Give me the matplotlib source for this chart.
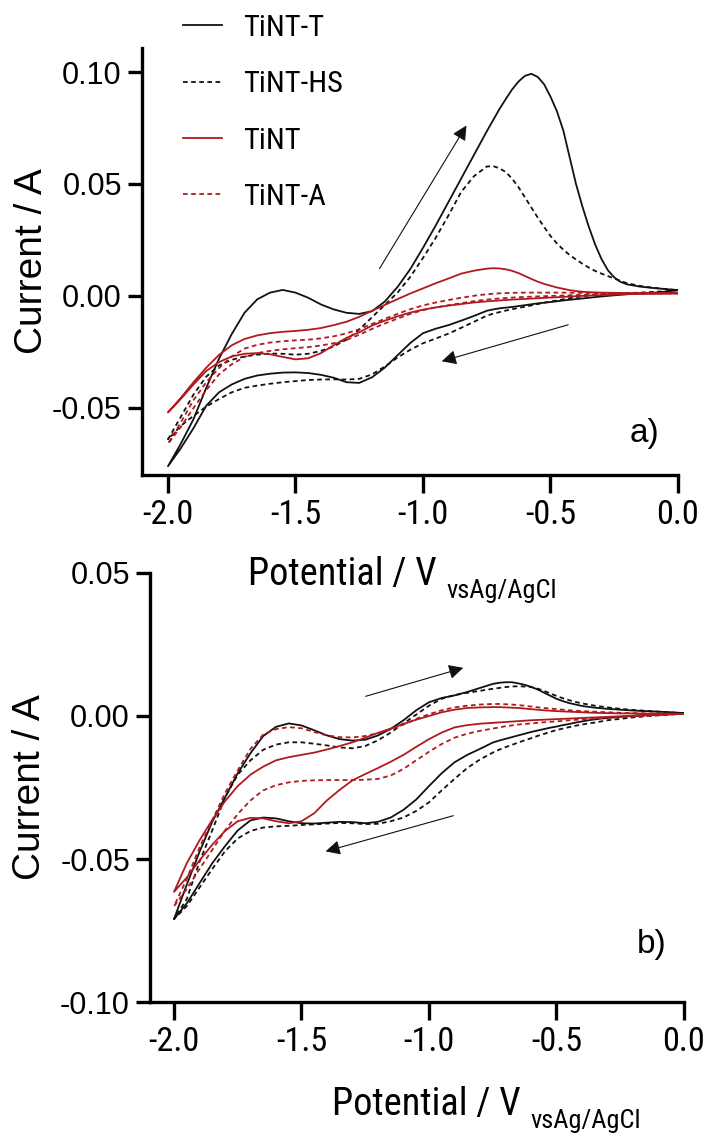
import matplotlib
matplotlib.use("Agg")
import matplotlib.pyplot as plt
from matplotlib import font_manager
import numpy as np

plt.rcParams["font.family"] = ["Liberation Sans", "DejaVu Sans"]
plt.rcParams["axes.unicode_minus"] = False

# the figure mixes a regular and a condensed Arial-like face; use a condensed
# family when one is installed, otherwise the regular one slightly smaller
_names = {f.name for f in font_manager.fontManager.ttflist}
NARROW, NK = "Liberation Sans", 0.88
for fam, k in [("Liberation Sans Narrow", 1.0), ("Arial Narrow", 1.0),
               ("Roboto Condensed", 0.95), ("Noto Sans Condensed", 0.9),
               ("Open Sans Condensed", 0.9)]:
    if fam in _names:
        NARROW, NK = fam, k
        break

BLACK, RED = "#111111", "#B01A1F"
DASH = (0, (2.6, 1.9))
W, H = 705, 1133

# potential grid, V vs Ag/AgCl (shared by every sweep)
E = [-2.00, -1.95, -1.90, -1.85, -1.80, -1.75, -1.70, -1.65, -1.60, -1.55,
     -1.50, -1.45, -1.40, -1.35, -1.30, -1.25, -1.20, -1.15, -1.10, -1.05,
     -1.00, -0.95, -0.90, -0.85, -0.80,
     -0.75, -0.725, -0.70, -0.675, -0.65, -0.625, -0.60, -0.575, -0.55, -0.525,
     -0.50, -0.475, -0.45, -0.425, -0.40, -0.375, -0.35, -0.325, -0.30, -0.275,
     -0.25, -0.225, -0.20, -0.15, -0.10, -0.05, 0.00]

# currents in mA
# *_fwd = anodic sweep (-2 -> 0 V), *_rev = cathodic sweep (0 -> -2 V)
# ---- panel a)
a_T_fwd = [-76, -66, -55, -41, -28, -17, -7.5, -1.5, 1.5, 2.7,
           1.5, -0.8, -3.8, -6.0, -7.5, -8.0, -6.8, -2.5, 4.0, 12,
           21.5, 31.5, 42, 52.5, 63,
           73.5, 78.5, 83.5, 88, 92.3, 95.8, 98.3, 99.2, 97.8, 94.5,
           89, 82.5, 74, 62, 50, 40, 31, 23, 16.5, 11.5,
           8.3, 6.3, 5.2, 4.2, 3.6, 3.1, 2.6]
a_T_rev = [-76, -68, -59, -49, -43, -39.5, -37, -35.5, -34.7, -34.2,
           -34.1, -34.4, -35.2, -36.5, -38.5, -38.8, -36.3, -32, -26.5, -21,
           -16.6, -14.6, -13.0, -11.0, -8.9,
           -6.6, -6.0, -5.5, -5.2, -4.9, -4.5, -4.1, -3.7, -3.3, -3.0,
           -2.7, -2.35, -2.0, -1.7, -1.4, -1.1, -0.8, -0.5, -0.2, 0.05,
           0.3, 0.55, 0.8, 1.1, 1.4, 1.9, 2.6]
a_HS_fwd = [-64, -54, -44, -36, -31, -28.5, -27, -26.2, -25.7, -25.8,
            -26.2, -25.8, -24.5, -22.5, -19.5, -15, -9.5, -4, 1.5, 8.5,
            17, 26, 36, 46.5, 53.5,
            57.8, 58.0, 57.0, 55.3, 52.3, 48.5, 44, 39.5, 35, 30.8,
            26.8, 23.5, 20.7, 18.3, 16.3, 14.4, 12.7, 11.2, 10, 8.9,
            7.8, 6.7, 5.7, 4.5, 3.7, 3.1, 2.6]
a_HS_rev = [-64, -58, -53.5, -49.4, -46, -43, -41, -40, -39.2, -38.5,
            -38, -37.5, -37.3, -37.2, -37.3, -37, -35, -31.5, -27.5, -24,
            -21.1, -19, -16.8, -14.2, -11.5,
            -8.8, -7.9, -7.2, -6.5, -5.9, -5.3, -4.8, -4.2, -3.6, -3.0,
            -2.5, -2.0, -1.5, -1.0, -0.5, -0.15, 0.2, 0.45, 0.7, 0.85,
            1.0, 1.15, 1.3, 1.5, 1.8, 2.1, 2.6]
a_N_fwd = [-52, -45.5, -38.5, -32, -26.3, -22, -19.2, -17.6, -16.6, -16,
           -15.6, -15.1, -14.3, -13, -11.5, -9.3, -6.6, -4, -1.4, 1.1,
           3.4, 5.7, 7.8, 10, 11.3,
           12.2, 12.4, 12.3, 11.9, 11.2, 10.2, 8.9, 7.6, 6.4, 5.4,
           4.6, 3.8, 3.2, 2.6, 2.2, 1.9, 1.7, 1.6, 1.5, 1.45,
           1.4, 1.35, 1.3, 1.3, 1.25, 1.2, 1.2]
a_N_rev = [-52, -46, -39.5, -33.5, -29.5, -27, -25.8, -25.5, -26, -27.2,
           -28.3, -27.8, -25.5, -22, -18.7, -16.2, -13.2, -11, -9.1, -7.4,
           -6.1, -5.1, -4.3, -3.6, -2.9,
           -2.4, -2.2, -2.0, -1.8, -1.6, -1.45, -1.3, -1.15, -1.0, -0.85,
           -0.7, -0.55, -0.4, -0.25, -0.1, 0.05, 0.2, 0.3, 0.4, 0.5,
           0.6, 0.7, 0.8, 0.9, 1.0, 1.1, 1.2]
a_A_fwd = [-66, -56.5, -46.5, -38.5, -32.2, -27, -23.5, -21.8, -20.8, -20.2,
           -19.8, -19.5, -18.9, -18, -16.7, -14.8, -12.5, -10.2, -8, -5.9,
           -4.2, -2.9, -1.8, -0.8, 0.1,
           0.8, 1.0, 1.2, 1.3, 1.4, 1.45, 1.5, 1.5, 1.5, 1.5,
           1.5, 1.5, 1.5, 1.45, 1.4, 1.4, 1.4, 1.35, 1.3, 1.3,
           1.3, 1.25, 1.2, 1.2, 1.2, 1.2, 1.2]
a_A_rev = [-66, -58.5, -50, -42, -35, -30.5, -27.2, -25.5, -24.5, -23.8,
           -23.3, -22.8, -22.1, -21.1, -19.6, -17.3, -14.7, -12.3, -10.1, -8,
           -6.3, -5.1, -4.1, -3.2, -2.3,
           -1.6, -1.35, -1.1, -0.9, -0.7, -0.55, -0.4, -0.3, -0.2, -0.1,
           0.0, 0.1, 0.2, 0.3, 0.4, 0.5, 0.6, 0.65, 0.7, 0.75,
           0.8, 0.85, 0.9, 1.0, 1.1, 1.2, 1.2]

# ---- panel b)
b_T_fwd = [-71, -59, -47.5, -37, -28.5, -20, -13, -7, -3.8, -2.6,
           -3.3, -5.0, -6.8, -8.1, -8.6, -8.3, -6.8, -4.5, -1.5, 2.0,
           4.8, 6.3, 7.2, 8.4, 9.8,
           11.2, 11.6, 11.8, 11.8, 11.4, 10.9, 10.2, 9.3, 8.2, 7.1,
           6.0, 5.2, 4.5, 4.0, 3.5, 3.2, 2.9, 2.7, 2.5, 2.35,
           2.2, 2.05, 1.9, 1.7, 1.5, 1.3, 1.0]
b_T_rev = [-71, -65.5, -58.5, -51.5, -45.5, -40, -36.5, -35.5, -35.8, -36.8,
           -37.5, -37.6, -37.3, -37, -37.1, -37.5, -37, -35.5, -32.8, -29.2,
           -24.5, -20, -16.2, -13.6, -11.5,
           -9.3, -8.6, -8.0, -7.4, -6.8, -6.2, -5.6, -5.1, -4.6, -4.1,
           -3.7, -3.2, -2.8, -2.3, -1.9, -1.5, -1.2, -0.9, -0.7, -0.5,
           -0.3, -0.15, 0.0, 0.2, 0.4, 0.6, 1.0]
b_HS_fwd = [-71, -64, -51, -40, -28.5, -20.5, -15.5, -11.8, -10, -9.2,
            -9.2, -9.7, -10.3, -11, -11.3, -10.5, -8.5, -5.8, -2.6, 0.5,
            3.6, 6.0, 7.3, 8.1, 8.8,
            9.5, 9.8, 10.1, 10.3, 10.4, 10.3, 10.1, 9.6, 8.8, 7.9,
            7.0, 6.2, 5.5, 4.9, 4.4, 4.0, 3.6, 3.3, 3.0, 2.75,
            2.5, 2.3, 2.1, 1.8, 1.5, 1.2, 1.0]
b_HS_rev = [-71, -66.5, -60, -53.5, -47.3, -42.8, -40.2, -39, -38.6, -38.4,
            -38.1, -37.9, -37.6, -37.4, -37.5, -37.8, -37.7, -36.8, -35.5, -33.2,
            -30.2, -26, -22, -18.2, -15.2,
            -12.8, -11.8, -10.9, -10.1, -9.3, -8.5, -7.8, -7.0, -6.3, -5.6,
            -4.9, -4.4, -3.9, -3.4, -3.0, -2.6, -2.3, -1.9, -1.5, -1.25,
            -1.0, -0.75, -0.5, -0.1, 0.3, 0.6, 1.0]
b_N_fwd = [-61.5, -51.5, -43.5, -36.3, -29.8, -24.5, -20.5, -17.7, -15.5, -14.4,
           -13.6, -12.8, -11.7, -10.5, -9.2, -7.6, -5.9, -4.4, -2.8, -1.3,
           0.0, 1.3, 2.2, 2.8, 3.0,
           3.1, 3.1, 3.0, 2.9, 2.8, 2.6, 2.4, 2.2, 2.0, 1.85,
           1.7, 1.6, 1.5, 1.4, 1.3, 1.2, 1.1, 1.05, 1.0, 0.95,
           0.9, 0.9, 0.9, 0.8, 0.8, 0.8, 0.7]
b_N_rev = [-61.5, -56.5, -50.5, -45, -40.2, -36.8, -35.6, -35.8, -36.8, -37.5,
           -36.8, -34, -29.5, -25.8, -22.5, -20.3, -18.2, -16.0, -13.6, -10.8,
           -8.1, -5.8, -4.0, -3.2, -2.7,
           -2.4, -2.25, -2.1, -1.95, -1.8, -1.65, -1.5, -1.4, -1.3, -1.2,
           -1.1, -1.0, -0.9, -0.8, -0.7, -0.6, -0.5, -0.4, -0.3, -0.2,
           -0.1, 0.0, 0.1, 0.3, 0.4, 0.6, 0.7]
b_A_fwd = [-66.5, -57, -46, -36.5, -27, -19, -11.5, -6.5, -4.6, -3.9,
           -4.3, -5.6, -6.8, -7.4, -7.5, -7.0, -6.0, -4.7, -3.0, -1.0,
           0.6, 2.0, 3.0, 3.6, 4.0,
           4.2, 4.2, 4.1, 4.0, 3.8, 3.6, 3.3, 3.05, 2.8, 2.6,
           2.4, 2.2, 2.0, 1.85, 1.7, 1.6, 1.5, 1.4, 1.3, 1.2,
           1.1, 1.05, 1.0, 0.9, 0.8, 0.8, 0.7]
b_A_rev = [-66.5, -60.5, -53.5, -46.8, -40, -34.3, -29.5, -26, -24.2, -23.2,
           -22.7, -22.5, -22.4, -22.4, -22.4, -22.3, -22.0, -20.8, -18.5, -15.5,
           -12.5, -9.8, -7.6, -6.2, -5.2,
           -4.4, -4.0, -3.6, -3.3, -3.0, -2.8, -2.6, -2.4, -2.2, -2.05,
           -1.9, -1.7, -1.5, -1.35, -1.2, -1.05, -0.9, -0.75, -0.6, -0.5,
           -0.4, -0.3, -0.2, 0.0, 0.2, 0.5, 0.7]

labels = ["TiNT-T", "TiNT-HS", "TiNT", "TiNT-A"]
styles = [(BLACK, "-"), (BLACK, DASH), (RED, "-"), (RED, DASH)]
xticks = [-2.0, -1.5, -1.0, -0.5, 0.0]
xticklabels = ["-2.0", "-1.5", "-1.0", "-0.5", "0.0"]


def loop(fwd, rev):
    # cathodic sweep first (0 -> -2 V), then back (-2 -> 0 V)
    x = np.concatenate([E[::-1], E])
    y = np.concatenate([np.array(rev)[::-1], np.array(fwd)]) / 1000.0
    return x, y


def style_axes(ax, ylab_x):
    for s in ["top", "right"]:
        ax.spines[s].set_visible(False)
    for s in ["left", "bottom"]:
        ax.spines[s].set_linewidth(2.4)
    ax.tick_params(axis="y", direction="out", length=10, width=2.4, labelsize=22, pad=4.5)
    ax.tick_params(axis="x", direction="out", length=13, width=2.4, pad=4)
    ax.set_xticks(xticks)
    ax.set_xticklabels(xticklabels, fontfamily=NARROW, fontsize=26 * NK)
    ax.set_ylabel("Current / A", fontsize=28)
    ax.yaxis.set_label_coords(ylab_x, 0.5)


fig = plt.figure(figsize=(W / 100, H / 100), dpi=100)
ax1 = fig.add_axes([0.2014, 0.5808, 0.7603, 0.3768])
ax2 = fig.add_axes([0.2128, 0.1156, 0.7574, 0.3787])

panels = [
    (ax1, [(a_T_fwd, a_T_rev), (a_HS_fwd, a_HS_rev), (a_N_fwd, a_N_rev), (a_A_fwd, a_A_rev)]),
    (ax2, [(b_T_fwd, b_T_rev), (b_HS_fwd, b_HS_rev), (b_N_fwd, b_N_rev), (b_A_fwd, b_A_rev)]),
]
handles = []
for ax, curves in panels:
    for (fwd, rev), (c, ls), lab in zip(curves, styles, labels):
        x, y = loop(fwd, rev)
        ln, = ax.plot(x, y, color=c, ls=ls, lw=1.3, label=lab)
        if ax is ax1:
            handles.append(ln)

style_axes(ax1, (50 - 142) / 536)
style_axes(ax2, (48 - 150) / 534)

ax1.set_xlim(-2.102, 0.0)
ax1.set_ylim(-0.0799, 0.1107)
ax1.set_yticks([-0.05, 0.0, 0.05, 0.10])
ax1.set_yticklabels(["-0.05", "0.00", "0.05", "0.10"])

ax2.set_xlim(-2.094, 0.0)
ax2.set_ylim(-0.10, 0.05)
ax2.set_yticks([-0.10, -0.05, 0.0, 0.05])
ax2.set_yticklabels(["-0.10", "-0.05", "0.00", "0.05"])

# x-axis titles: "Potential / V" followed by a lowered, smaller tag
for x0, base in [(248, 585), (332, 1115)]:
    t = fig.text(x0 / W, 1 - base / H, "Potential / V", fontfamily=NARROW,
                 fontsize=29 * NK, ha="left", va="baseline")
    fig.canvas.draw()
    bb = t.get_window_extent()
    fig.text((bb.x1 + 10) / W, 1 - (base + 13) / H, "vsAg/AgCl", fontfamily=NARROW,
             fontsize=20 * NK, ha="left", va="baseline")

# sweep-direction arrows
arw = dict(arrowstyle="-|>", color=BLACK, lw=0.8, mutation_scale=22)
ax1.annotate("", xy=(-0.824, 0.0772), xytext=(-1.176, 0.0112), arrowprops=arw)
ax1.annotate("", xy=(-0.937, -0.0295), xytext=(-0.420, -0.0125), arrowprops=arw)
ax2.annotate("", xy=(-0.855, 0.0171), xytext=(-1.259, 0.0066), arrowprops=arw)
ax2.annotate("", xy=(-1.416, -0.0476), xytext=(-0.894, -0.0346), arrowprops=arw)

ax1.text(0.938, 0.098, "a)", transform=ax1.transAxes, fontsize=24, ha="center", va="center")
ax2.text(0.940, 0.133, "b)", transform=ax2.transAxes, fontsize=24, ha="center", va="center")

# legend: rows every ~58 px, 39 px line samples starting at x = 183 px
lsize = 23 * NK
em = lsize * 100 / 72
fig.legend(handles=handles, labels=labels, loc="upper left",
           bbox_to_anchor=(183 / W, 1 - 14 / H), frameon=False,
           prop={"family": NARROW, "size": lsize},
           handlelength=39 / em, handletextpad=21 / em, labelspacing=57.7 / em - 0.97,
           borderpad=0, borderaxespad=0)

fig.savefig("out.png", dpi=100)
